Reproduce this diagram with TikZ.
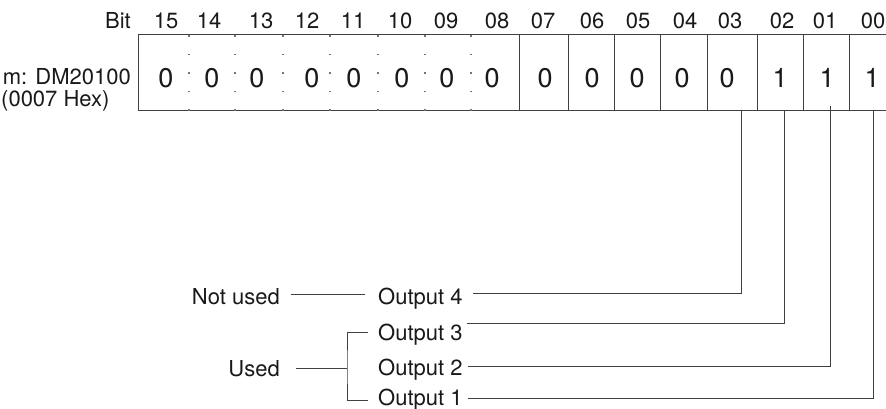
\documentclass[tikz,border=0pt]{standalone}
\usepackage{fontspec}
\setmainfont{TeX Gyre Heros}
\begin{document}
\begin{tikzpicture}[x=1pt,y=-1pt,
  txt/.style={inner sep=0pt, font=\fontsize{22}{26}\selectfont, text=black!90},
  val/.style={txt, font=\fontsize{27}{30}\selectfont},
  outlbl/.style={txt, font=\fontsize{22}{26}\selectfont},
  ln/.style={line width=1pt, draw=black!75},
  dotdiv/.style={line width=1.4pt, draw=black!55, dash pattern=on 1.4pt off 17.1pt},
]
\useasboundingbox (0,0) rectangle (886,409);
% register box
\draw[ln] (886,35) -- (138,35) -- (138,111) -- (886,111);
\foreach \x in {189,235,283,330,378,425,471}
  \draw[dotdiv] (\x,35.3) -- (\x,111);
\foreach \x in {519,568,614,660,707,757,803,849}
  \draw[ln] (\x,35) -- (\x,111);
% bit numbers
\node[txt,anchor=base east] (bit) at (131,29) {Bit};
\foreach \n/\x in {15/166,14/209,13/261,12/307,11/353,10/400,09/446,08/497,07/543,06/592,05/638,04/685,03/730,02/782,01/825,00/873}
  \node[txt,anchor=base] (b\n) at (\x,29) {\n};
% values
\foreach \n/\x/\v in {15/166/0,14/212/0,13/257/0,12/312/0,11/354/0,10/402/0,09/447/0,08/492/0,07/545/0,06/592/0,05/637/0,04/682/0,03/727/0,02/780/1,01/827/1,00/872/1}
  \node[val,anchor=base] (v\n) at (\x,88) {\v};
% register label
\node[txt,anchor=base east] (reg) at (131,85) {m: DM20100};
\node[txt,anchor=base west] (hex) at (1,107) {(0007 Hex)};
% outputs
\node[outlbl,anchor=base west] (o4) at (378,304) {Output 4};
\node[outlbl,anchor=base west] (o3) at (378,340) {Output 3};
\node[outlbl,anchor=base west] (o2) at (378,375) {Output 2};
\node[outlbl,anchor=base west] (o1) at (378,405) {Output 1};
\node[txt,anchor=base east] (nu) at (280,304) {Not used};
\node[txt,anchor=base east] (us) at (280,376) {Used};
% connector ends
\coordinate (c03) at (741,111);
\coordinate (c02) at (784,111);
\coordinate (c01) at (830,106);
\coordinate (c00) at (873,111);
\coordinate (s4) at (473,293);
\coordinate (s3) at (467,323);
\coordinate (s2) at (468,366);
\coordinate (s1) at (468,398);
\draw[ln] (s4) -| (c03);
\draw[ln] (s3) -| (c02);
\draw[ln] (s2) -| (c01);
\draw[ln] (s1) -| (c00);
% left side
\coordinate (nuA) at (291,294);
\coordinate (nuB) at (365,294);
\draw[ln] (nuA) -- (nuB);
\coordinate (usA) at (296,368);
\coordinate (usB) at (347,368);
\coordinate (brT) at (368,332);
\coordinate (brB) at (368,400);
\draw[ln] (usA) -- (usB);
\draw[ln] (brT) -| (usB) |- (brB);
\end{tikzpicture}
\end{document}
